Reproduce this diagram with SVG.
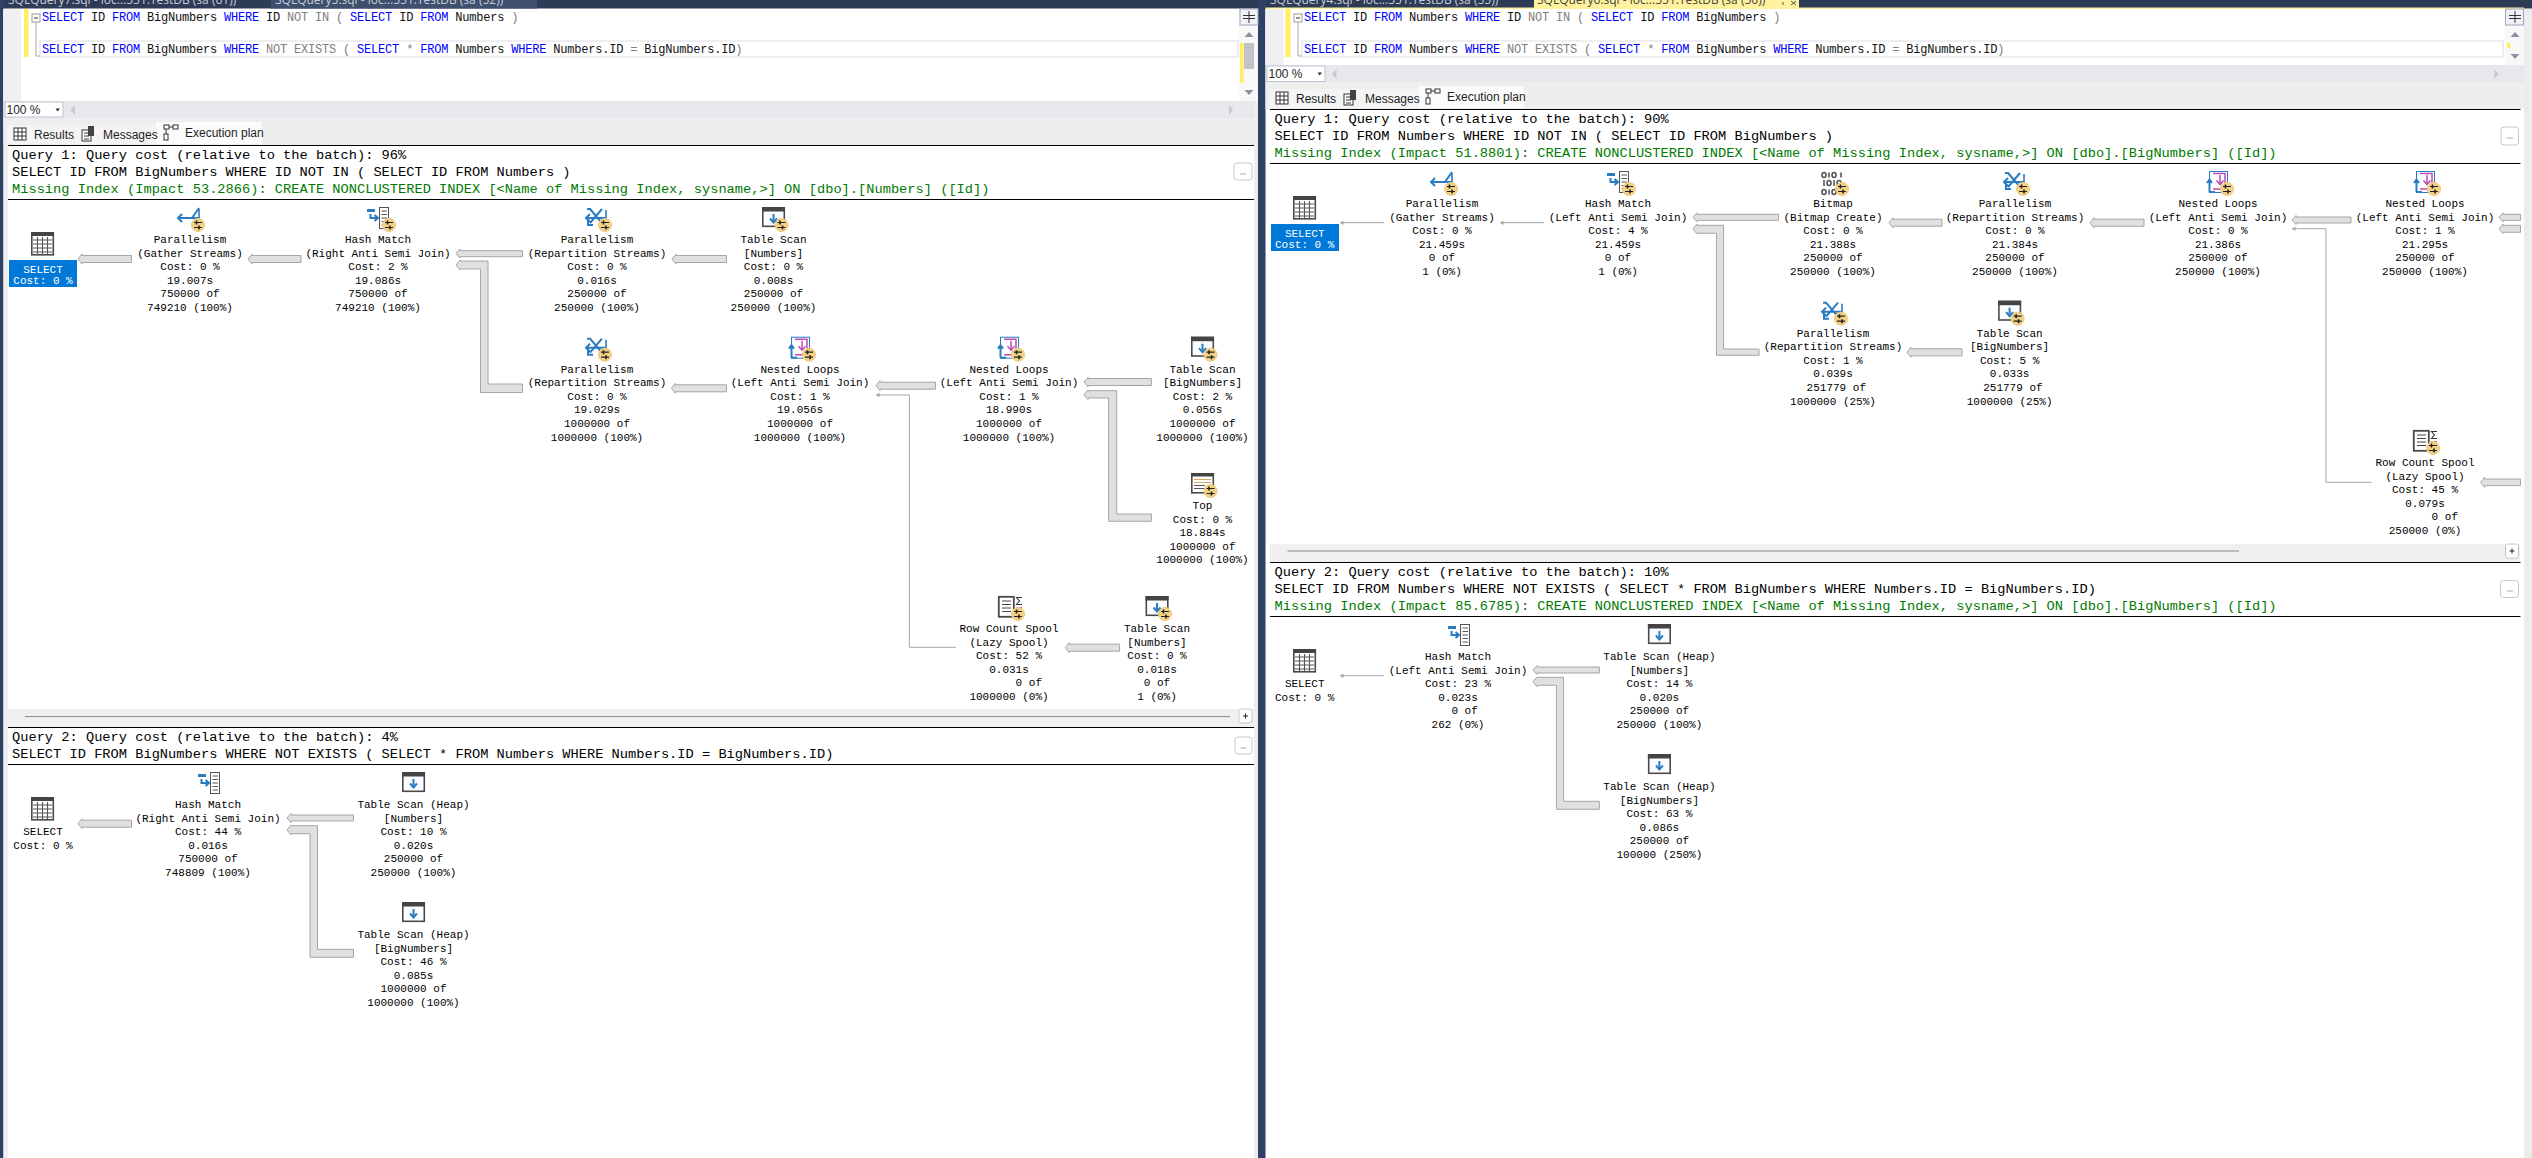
<svg xmlns="http://www.w3.org/2000/svg" xmlns:xlink="http://www.w3.org/1999/xlink" width="2532" height="1158" viewBox="0 0 2532 1158">
<style>
text{white-space:pre}
.n{font:11px "Liberation Mono",monospace;text-anchor:middle;fill:#000}
.w{fill:#fff}
.h{font:13.7px "Liberation Mono",monospace;fill:#000}
.g{fill:#007a00}
.e{font:12px "Liberation Mono",monospace;letter-spacing:-.2px;fill:#111}
.k{fill:#0000ff}
.o{fill:#808080}
.u{font:12px "Liberation Sans",Arial,sans-serif;fill:#1e1e1e}
.t{font:12px "Open Sans",Arial,sans-serif;fill:#c8ccd6}
.fat{fill:#e0e0e0;stroke:#a6a6a6;stroke-width:1}
.thin{fill:none;stroke:#a6a6a6;stroke-width:1;marker-start:url(#ah)}
.rule{stroke:#000;stroke-width:1.2}
.btn{fill:#fff;stroke:#c8c8c8;stroke-width:1}
.b{stroke:#2a7cc2;stroke-width:2;fill:none}
.m{stroke:#c04ab8;stroke-width:1.5;fill:none}
.d{stroke:#454545;stroke-width:1;fill:none}
</style>
<defs>
<marker id="ah" markerWidth="5" markerHeight="6" refX="0.5" refY="3" orient="auto" markerUnits="userSpaceOnUse"><path d="M0.5,3 L4,0.8 V5.2 Z" fill="#a6a6a6"/></marker>
<g id="badge"><circle cx="20" cy="18" r="6.5" fill="#f3d288" stroke="#ecc878"/><path d="M16,15.5H24M16,20.5H24" stroke="#222" stroke-width="1.2"/><path d="M18.5,13.5V17.5M21,18.5V22.5" stroke="#222" stroke-width="1.6"/></g>
<g id="select"><rect x="0.8" y="0.8" width="21.5" height="22" fill="#fff" stroke="#4a4a4a" stroke-width="1.6"/><rect x="0" y="0" width="23" height="4" fill="#444"/><path d="M2,8H21M2,12H21M2,16H21M2,20H21M6.5,5V22M11.5,5V22M16.5,5V22" stroke="#555" stroke-width="1.1"/></g>
<g id="scan"><rect x="0.8" y="0.8" width="21.5" height="18.5" fill="#fbfcff" stroke="#4a4a4a" stroke-width="1.6"/><rect x="0" y="0" width="23" height="4.5" fill="#444"/><path d="M11.5,7V14" class="b"/><path d="M8,11.5L11.5,15.5L15,11.5" class="b"/></g>
<g id="hash"><rect x="0" y="2" width="8" height="3" fill="#2a7cc2"/><path d="M3.5,7V11H10M7.5,8L11,11L7.5,14" class="b"/><rect x="12.5" y="0.5" width="9" height="21" fill="#fff" stroke="#555"/><path d="M14.5,4H20M14.5,7.5H20M14.5,11H20M14.5,14.5H20M14.5,18H20" stroke="#555"/></g>
<g id="nl"><rect x="2.5" y="0.5" width="18" height="21" fill="#fff" stroke="#2a7cc2"/><path d="M6,2.5H18V18H6" class="m"/><path d="M13,4V12M9.5,9.5L13,13.5L16.5,9.5" class="m" stroke-width="2"/><path d="M2.5,21V9M0,12L2.5,8.5L5,12" class="b"/><path d="M2.5,21H8" class="b"/></g>
<g id="gather"><path d="M1,11H22" class="b"/><path d="M5,7L1,11L5,15" class="b"/><path d="M22,1L15,11" class="b"/><path d="M22,2V16" stroke="#2a7cc2" stroke-width="1.6"/></g>
<g id="rep"><path d="M1,11H21M5,7L1,11L5,15M5,2L17,16M17,2L5,16M6,2H2" class="b"/><path d="M21,3V17" stroke="#2a7cc2" stroke-width="1.6"/><path d="M3,13V18H8" class="b"/></g>
<g id="spool"><rect x="0.8" y="0.8" width="15" height="20" fill="#fff" stroke="#4a4a4a" stroke-width="1.8"/><path d="M4,5H13M4,8.5H13M4,12H13M4,15.5H13" stroke="#444" stroke-width="1.2"/><path d="M24,1.5H18.5L21.5,5L18.5,8.5H24" fill="none" stroke="#333" stroke-width="1.1"/><rect x="18" y="11" width="6" height="2.5" fill="#c860c0"/></g>
<g id="top"><rect x="0.8" y="0.8" width="21.5" height="19" fill="#fff" stroke="#4a4a4a" stroke-width="1.6"/><rect x="0" y="0" width="23" height="3.5" fill="#444"/><path d="M3,6.5H20M3,9.5H20" stroke="#d9a860"/><path d="M3,12.5H14M3,15.5H14" stroke="#555"/></g>
<g id="bitmap" fill="none" stroke="#555" stroke-width="1.6"><ellipse cx="3" cy="3" rx="2" ry="2.5"/><path d="M8,0.5V5.5"/><ellipse cx="13" cy="3" rx="2" ry="2.5"/><path d="M20,0.5V5.5"/><path d="M3,8V14"/><ellipse cx="8" cy="11" rx="2" ry="2.5"/><path d="M13,8V14"/><ellipse cx="18" cy="11" rx="2" ry="2.5"/><ellipse cx="3" cy="20" rx="2" ry="2.5"/><path d="M8,17.5V22.5"/><ellipse cx="13" cy="20" rx="2" ry="2.5"/></g>
<g id="tabs-ic"><rect x="7" y="3" width="12" height="12" fill="#fff" stroke="#333"/><path d="M7,7H19M7,11H19M11,3V15M15,3V15" stroke="#333"/><rect x="75" y="5" width="9" height="11" fill="#fff" stroke="#333"/><rect x="81" y="1" width="6" height="10" fill="#444"/><path d="M77,8H82M77,11H82M77,14H82" stroke="#333"/></g>
<g id="plan-ic" fill="#fff" stroke="#333"><rect x="0" y="0" width="5" height="4"/><rect x="9" y="0" width="5" height="4"/><rect x="0" y="9" width="4" height="6"/><path d="M5,2H9M2,4V9"/></g>
<g id="tabs">
<rect x="0" y="0" width="67" height="19" fill="#f4f4f4"/><rect x="68" y="0" width="80" height="19" fill="#f4f4f4"/><rect x="149" y="-3" width="106" height="22" fill="#fbfbfb"/>
</g>
</defs>

<rect width="2532" height="1158" fill="#fff"/>

<g id="chrome">
<rect x="0" y="0" width="2532" height="8.5" fill="#2d3b57"/>
<rect x="271" y="0" width="266" height="8.5" fill="#3f4f6e"/>
<rect x="1534" y="0" width="265" height="8" fill="#fff29d"/>
<rect x="1265" y="7.5" width="1259" height="1.5" fill="#fff29d"/>
<rect x="0" y="0" width="3.5" height="1158" fill="#2f4266"/>
<rect x="3.5" y="9" width="4.5" height="1149" fill="#f0f0f0"/>
<rect x="1254" y="9" width="5" height="1149" fill="#eeeeee"/>
<rect x="1258" y="0" width="7.5" height="1158" fill="#2f4266"/>
<rect x="2524" y="9" width="8" height="1149" fill="#ececec"/>
<text class="t" x="8" y="3.5">SQLQuery7.sql - loc...551.TestDB (sa (61))</text>
<text class="t" x="275" y="3.5">SQLQuery5.sql - loc...551.TestDB (sa (52))</text>
<text class="t" x="1270" y="3.5">SQLQuery4.sql - loc...551.TestDB (sa (55))</text>
<text class="t" x="1537" y="3.5" style="fill:#444">SQLQuery6.sql - loc...551.TestDB (sa (56))</text>
<path d="M1783,2V5M1791,1L1796,5M1796,1L1791,5" stroke="#555" fill="none"/>
</g>

<g id="left-editor">
<rect x="3.5" y="9" width="1235" height="92" fill="#fff"/>
<rect x="3.5" y="9" width="17.5" height="92" fill="#f0f0f0"/>
<rect x="24" y="9" width="4.5" height="48" fill="#ffee62"/>
<rect x="40" y="41" width="1198" height="16" fill="#fff" stroke="#eeeef2" stroke-width="2"/>
<rect x="32" y="14" width="8" height="8" fill="#fff" stroke="#999"/><path d="M34,18H38" stroke="#333"/>
<path d="M36,22V56H40" stroke="#aaa" fill="none"/>
<text class="e" x="42" y="21"><tspan class="k">SELECT</tspan> ID <tspan class="k">FROM</tspan> BigNumbers <tspan class="k">WHERE</tspan> ID <tspan class="o">NOT IN ( </tspan><tspan class="k">SELECT</tspan> ID <tspan class="k">FROM</tspan> Numbers <tspan class="o">)</tspan></text>
<text class="e" x="42" y="53"><tspan class="k">SELECT</tspan> ID <tspan class="k">FROM</tspan> BigNumbers <tspan class="k">WHERE</tspan> <tspan class="o">NOT EXISTS ( </tspan><tspan class="k">SELECT</tspan> <tspan class="o">*</tspan> <tspan class="k">FROM</tspan> Numbers <tspan class="k">WHERE</tspan> Numbers.ID <tspan class="o">=</tspan> BigNumbers.ID<tspan class="o">)</tspan></text>
<rect x="1239" y="9" width="19" height="92" fill="#f8f8f8"/>
<rect x="1240" y="9" width="18" height="16" fill="#f0f2f8" stroke="#9aa6bc"/>
<path d="M1243,15.500H1255M1243,18.500H1255M1249,11V23" stroke="#333"/>
<path d="M1249,32L1253.500,37H1244.500Z" fill="#8a92a6"/>
<rect x="1244" y="43" width="10" height="26" fill="#c2c3c9"/>
<rect x="1240" y="43" width="3.500" height="40" fill="#ffee62"/>
<path d="M1249,95L1253.500,90H1244.500Z" fill="#8a92a6"/>
<rect x="3.500" y="101" width="1250.500" height="17" fill="#e7e8ec"/>
<rect x="5" y="102" width="58" height="15" fill="#fff" stroke="#bcc3d2"/>
<text class="u" x="6.500" y="114">100 %</text>
<path d="M55.500,108.500H60L57.700,111.500Z" fill="#333"/>
<path d="M70.500,110L75,105V115Z" fill="#c8c9cf"/>
<path d="M1233,110L1229,105V115Z" fill="#c8c9cf"/>
<rect x="3.500" y="118" width="1250.500" height="27" fill="#eeeeee"/>
<use href="#tabs" x="7" y="125"/>
<use href="#tabs-ic" x="7" y="125"/>
<use href="#plan-ic" x="164" y="125"/>
<text class="u" x="34" y="139">Results</text>
<text class="u" x="103" y="139">Messages</text>
<text class="u" x="185" y="137">Execution plan</text>
</g>

<g id="right-editor">
<rect x="1265.500" y="9" width="1239.500" height="56" fill="#fff"/>
<rect x="1265.500" y="9" width="18" height="56" fill="#f0f0f0"/>
<rect x="1285.500" y="9" width="5" height="48" fill="#ffee62"/>
<rect x="1302" y="41" width="1201" height="16" fill="#fff" stroke="#eeeef2" stroke-width="2"/>
<rect x="1294" y="14" width="8" height="8" fill="#fff" stroke="#999"/><path d="M1296,18H1300" stroke="#333"/>
<path d="M1298,22V56H1302" stroke="#aaa" fill="none"/>
<text class="e" x="1304" y="21"><tspan class="k">SELECT</tspan> ID <tspan class="k">FROM</tspan> Numbers <tspan class="k">WHERE</tspan> ID <tspan class="o">NOT IN ( </tspan><tspan class="k">SELECT</tspan> ID <tspan class="k">FROM</tspan> BigNumbers <tspan class="o">)</tspan></text>
<text class="e" x="1304" y="53"><tspan class="k">SELECT</tspan> ID <tspan class="k">FROM</tspan> Numbers <tspan class="k">WHERE</tspan> <tspan class="o">NOT EXISTS ( </tspan><tspan class="k">SELECT</tspan> <tspan class="o">*</tspan> <tspan class="k">FROM</tspan> BigNumbers <tspan class="k">WHERE</tspan> Numbers.ID <tspan class="o">=</tspan> BigNumbers.ID<tspan class="o">)</tspan></text>
<rect x="2505" y="9" width="19" height="56" fill="#f8f8f8"/>
<rect x="2505.500" y="9" width="18" height="16" fill="#f0f2f8" stroke="#9aa6bc"/>
<path d="M2509,15.500H2521M2509,18.500H2521M2515,11V23" stroke="#333"/>
<path d="M2515,32L2519.500,37H2510.500Z" fill="#8a92a6"/>
<rect x="2507" y="43" width="3.500" height="5" fill="#ffee62"/>
<path d="M2515,59L2519.500,54H2510.500Z" fill="#8a92a6"/>
<rect x="1265.500" y="65" width="1258.500" height="17" fill="#e7e8ec"/>
<rect x="1267" y="66" width="58" height="15.500" fill="#fff" stroke="#bcc3d2"/>
<text class="u" x="1268.500" y="78">100 %</text>
<path d="M1317.500,72.500H1322L1319.700,75.500Z" fill="#333"/>
<path d="M1332,74L1336.500,69V79Z" fill="#c8c9cf"/>
<path d="M2498.500,74L2494.500,69V79Z" fill="#c8c9cf"/>
<rect x="1265.500" y="82" width="1258.500" height="27" fill="#eeeeee"/>
<use href="#tabs" x="1269" y="89"/>
<use href="#tabs-ic" x="1269" y="89"/>
<use href="#plan-ic" x="1426" y="89"/>
<text class="u" x="1296" y="103">Results</text>
<text class="u" x="1365" y="103">Messages</text>
<text class="u" x="1447" y="101">Execution plan</text>
</g>

<g id="plan-frames">
<rect x="8" y="709" width="1246" height="18" fill="#f0f0f0"/>
<path d="M25,716.600H1230" stroke="#888" stroke-width="1"/>
<rect x="1239" y="709" width="13" height="14" rx="2" class="btn"/><path d="M1243,716H1248M1245.500,713.500V718.500" stroke="#222"/>
<rect x="1270" y="544" width="1250" height="18" fill="#f0f0f0"/>
<path d="M1287.500,551H2239" stroke="#888" stroke-width="1"/>
<rect x="2505.500" y="544" width="13" height="14" rx="2" class="btn"/><path d="M2509.500,551H2514.500M2512,548.500V553.500" stroke="#222"/>
<path class="rule" d="M8,145.500H1254M8,199.500H1254M8,727.500H1254M8,764.500H1254"/>
<path class="rule" d="M1270,109.500H2520.500M1270,163.500H2520.500M1270,562.500H2520.500M1270,616.500H2520.500"/>
<rect x="1234" y="163" width="18" height="17" rx="3" class="btn"/><path d="M1240,174H1246" stroke="#aaa"/>
<rect x="1235" y="737" width="17" height="17" rx="3" class="btn"/><path d="M1240.500,748H1246.500" stroke="#aaa"/>
<rect x="2501" y="127" width="17.500" height="18" rx="3" class="btn"/><path d="M2507,138H2513" stroke="#aaa"/>
<rect x="2500.500" y="580.500" width="18" height="17" rx="3" class="btn"/><path d="M2507,591H2513" stroke="#aaa"/>
<text class="h" x="12" y="158.700">Query 1: Query cost (relative to the batch): 96%</text>
<text class="h" x="12" y="175.700">SELECT ID FROM BigNumbers WHERE ID NOT IN ( SELECT ID FROM Numbers )</text>
<text class="h g" x="12" y="192.700">Missing Index (Impact 53.2866): CREATE NONCLUSTERED INDEX [&lt;Name of Missing Index, sysname,&gt;] ON [dbo].[Numbers] ([Id])</text>
<text class="h" x="12" y="741">Query 2: Query cost (relative to the batch): 4%</text>
<text class="h" x="12" y="758">SELECT ID FROM BigNumbers WHERE NOT EXISTS ( SELECT * FROM Numbers WHERE Numbers.ID = BigNumbers.ID)</text>
<text class="h" x="1274.500" y="122.700">Query 1: Query cost (relative to the batch): 90%</text>
<text class="h" x="1274.500" y="139.700">SELECT ID FROM Numbers WHERE ID NOT IN ( SELECT ID FROM BigNumbers )</text>
<text class="h g" x="1274.500" y="156.700">Missing Index (Impact 51.8801): CREATE NONCLUSTERED INDEX [&lt;Name of Missing Index, sysname,&gt;] ON [dbo].[BigNumbers] ([Id])</text>
<text class="h" x="1274.500" y="575.700">Query 2: Query cost (relative to the batch): 10%</text>
<text class="h" x="1274.500" y="592.700">SELECT ID FROM Numbers WHERE NOT EXISTS ( SELECT * FROM BigNumbers WHERE Numbers.ID = BigNumbers.ID)</text>
<text class="h g" x="1274.500" y="609.700">Missing Index (Impact 85.6785): CREATE NONCLUSTERED INDEX [&lt;Name of Missing Index, sysname,&gt;] ON [dbo].[BigNumbers] ([Id])</text>
</g>

<g id="connectors">
<polygon class="fat" points="78,259 82,254 82,255.500 131.500,255.500 131.500,262.500 82,262.500 82,264"/>
<polygon class="fat" points="248,259 252,254 252,255.500 301,255.500 301,262.500 252,262.500 252,264"/>
<polygon class="fat" points="456,253.500 460,249 460,250.700 522.500,250.700 522.500,256.700 460,256.700 460,258"/>
<polygon class="fat" points="456,265 460,260 460,261 488,261 488,384 522.500,384 522.500,392.500 480.500,392.500 480.500,269 460,269 460,270"/>
<polygon class="fat" points="672,259 676,254 676,255.500 726.500,255.500 726.500,262.500 676,262.500 676,264"/>
<polygon class="fat" points="671.400,388.300 675.400,383.300 675.400,384.800 726.500,384.800 726.500,391.800 675.400,391.800 675.400,393.300"/>
<polygon class="fat" points="876,385.700 880,380.700 880,382.200 935.500,382.200 935.500,389.200 880,389.200 880,390.700"/>
<path class="thin" d="M876,395H909.400V647.300H956"/>
<polygon class="fat" points="1084,382 1088,377 1088,378.500 1151.400,378.500 1151.400,385.500 1088,385.500 1088,387"/>
<polygon class="fat" points="1084,394.700 1088,390 1088,390.700 1116.700,390.700 1116.700,514 1151.400,514 1151.400,521.300 1108.600,521.300 1108.600,398 1088,398 1088,399.500"/>
<polygon class="fat" points="1065.300,647.700 1069.300,642.700 1069.300,644.200 1119.600,644.200 1119.600,651.200 1069.300,651.200 1069.300,652.700"/>
<polygon class="fat" points="78,823.700 82,818.700 82,820.200 131.500,820.200 131.500,827.200 82,827.200 82,828.700"/>
<polygon class="fat" points="287,818 291,813.500 291,815 353.500,815 353.500,821 291,821 291,822.500"/>
<polygon class="fat" points="287,830 291,825 291,825.700 317.500,825.700 317.500,949.300 353.500,949.300 353.500,957.300 310,957.300 310,833.700 291,833.700 291,835"/>
<path class="thin" d="M1340,222.700H1384"/>
<path class="thin" d="M1500,222.700H1544"/>
<polygon class="fat" points="1693,217.300 1697,212.800 1697,214.300 1778.600,214.300 1778.600,220.300 1697,220.300 1697,221.800"/>
<polygon class="fat" points="1693,228.700 1697,224 1697,225.300 1723.500,225.300 1723.500,349 1759,349 1759,355.300 1716.500,355.300 1716.500,233.300 1697,233.300 1697,234"/>
<polygon class="fat" points="1889,222.700 1893,217.700 1893,219.200 1942,219.200 1942,226.200 1893,226.200 1893,227.700"/>
<polygon class="fat" points="2090,222.700 2094,217.700 2094,219.200 2144,219.200 2144,226.200 2094,226.200 2094,227.700"/>
<polygon class="fat" points="2292,220 2296,215.500 2296,217 2351,217 2351,223 2296,223 2296,224.500"/>
<path class="thin" d="M2292,228.700H2326V482.300H2371.600"/>
<polygon class="fat" points="2499,217.300 2503,212.800 2503,214.300 2520.500,214.300 2520.500,220.300 2503,220.300 2503,221.800"/>
<polygon class="fat" points="2499,228.700 2503,224 2503,225.300 2520.500,225.300 2520.500,232.300 2503,232.300 2503,233.700"/>
<polygon class="fat" points="2480.600,482.300 2484.600,477.300 2484.600,479 2520.500,479 2520.500,485.600 2484.600,485.600 2484.600,487.300"/>
<polygon class="fat" points="1907,352.300 1911,347.300 1911,348.800 1962,348.800 1962,355.800 1911,355.800 1911,357.300"/>
<path class="thin" d="M1340,675.700H1384"/>
<polygon class="fat" points="1533,670 1537,665.500 1537,667 1599.400,667 1599.400,673 1537,673 1537,674.500"/>
<polygon class="fat" points="1533,681.700 1537,677 1537,677.300 1563.500,677.300 1563.500,801.300 1599.400,801.300 1599.400,809.300 1556.500,809.300 1556.500,685.300 1537,685.300 1537,686.700"/>
</g>

<g id="l1-select"><use href="#select" x="31" y="232"/><rect x="9" y="260" width="68" height="27" fill="#0078d7"/><text class="n w" x="43" y="273">SELECT</text><text class="n w" x="43" y="284">Cost: 0 %</text></g>

<g id="l1-gather" transform="translate(190,243)"><use href="#gather" x="-13" y="-36"/><use href="#badge" x="-12" y="-36"/><text class="n"><tspan x="0">Parallelism</tspan><tspan x="0" dy="13.600">(Gather Streams)</tspan><tspan x="0" dy="13.600">Cost: 0 %</tspan><tspan x="0" dy="13.600">19.007s</tspan><tspan x="0" dy="13.600">750000 of</tspan><tspan x="0" dy="13.600">749210 (100%)</tspan></text></g>
<g id="l1-hash" transform="translate(378,243)"><use href="#hash" x="-11" y="-36"/><use href="#badge" x="-9" y="-36"/><text class="n"><tspan x="0">Hash Match</tspan><tspan x="0" dy="13.600">(Right Anti Semi Join)</tspan><tspan x="0" dy="13.600">Cost: 2 %</tspan><tspan x="0" dy="13.600">19.086s</tspan><tspan x="0" dy="13.600">750000 of</tspan><tspan x="0" dy="13.600">749210 (100%)</tspan></text></g>
<g id="l1-rep1" transform="translate(597,243)"><use href="#rep" x="-12" y="-36"/><use href="#badge" x="-12" y="-36"/><text class="n"><tspan x="0">Parallelism</tspan><tspan x="0" dy="13.600">(Repartition Streams)</tspan><tspan x="0" dy="13.600">Cost: 0 %</tspan><tspan x="0" dy="13.600">0.016s</tspan><tspan x="0" dy="13.600">250000 of</tspan><tspan x="0" dy="13.600">250000 (100%)</tspan></text></g>
<g id="l1-scan1" transform="translate(773.500,243)"><use href="#scan" x="-11.500" y="-36"/><use href="#badge" x="-12" y="-36"/><text class="n"><tspan x="0">Table Scan</tspan><tspan x="0" dy="13.600">[Numbers]</tspan><tspan x="0" dy="13.600">Cost: 0 %</tspan><tspan x="0" dy="13.600">0.008s</tspan><tspan x="0" dy="13.600">250000 of</tspan><tspan x="0" dy="13.600">250000 (100%)</tspan></text></g>
<g id="l1-rep2" transform="translate(597,372.700)"><use href="#rep" x="-12" y="-36"/><use href="#badge" x="-12" y="-36"/><text class="n"><tspan x="0">Parallelism</tspan><tspan x="0" dy="13.600">(Repartition Streams)</tspan><tspan x="0" dy="13.600">Cost: 0 %</tspan><tspan x="0" dy="13.600">19.029s</tspan><tspan x="0" dy="13.600">1000000 of</tspan><tspan x="0" dy="13.600">1000000 (100%)</tspan></text></g>
<g id="l1-nl1" transform="translate(800,372.700)"><use href="#nl" x="-11" y="-36"/><use href="#badge" x="-11" y="-36"/><text class="n"><tspan x="0">Nested Loops</tspan><tspan x="0" dy="13.600">(Left Anti Semi Join)</tspan><tspan x="0" dy="13.600">Cost: 1 %</tspan><tspan x="0" dy="13.600">19.056s</tspan><tspan x="0" dy="13.600">1000000 of</tspan><tspan x="0" dy="13.600">1000000 (100%)</tspan></text></g>
<g id="l1-nl2" transform="translate(1009,372.700)"><use href="#nl" x="-11" y="-36"/><use href="#badge" x="-11" y="-36"/><text class="n"><tspan x="0">Nested Loops</tspan><tspan x="0" dy="13.600">(Left Anti Semi Join)</tspan><tspan x="0" dy="13.600">Cost: 1 %</tspan><tspan x="0" dy="13.600">18.990s</tspan><tspan x="0" dy="13.600">1000000 of</tspan><tspan x="0" dy="13.600">1000000 (100%)</tspan></text></g>
<g id="l1-scan2" transform="translate(1202.500,372.700)"><use href="#scan" x="-11.500" y="-36"/><use href="#badge" x="-12" y="-36"/><text class="n"><tspan x="0">Table Scan</tspan><tspan x="0" dy="13.600">[BigNumbers]</tspan><tspan x="0" dy="13.600">Cost: 2 %</tspan><tspan x="0" dy="13.600">0.056s</tspan><tspan x="0" dy="13.600">1000000 of</tspan><tspan x="0" dy="13.600">1000000 (100%)</tspan></text></g>
<g id="l1-top" transform="translate(1202.500,509)"><use href="#top" x="-11.500" y="-36"/><use href="#badge" x="-12" y="-36"/><text class="n"><tspan x="0">Top</tspan><tspan x="0" dy="13.600">Cost: 0 %</tspan><tspan x="0" dy="13.600">18.884s</tspan><tspan x="0" dy="13.600">1000000 of</tspan><tspan x="0" dy="13.600">1000000 (100%)</tspan></text></g>
<g id="l1-spool" transform="translate(1009,632)"><use href="#spool" x="-11" y="-36"/><use href="#badge" x="-11" y="-36"/><text class="n"><tspan x="0">Row Count Spool</tspan><tspan x="0" dy="13.600">(Lazy Spool)</tspan><tspan x="0" dy="13.600">Cost: 52 %</tspan><tspan x="0" dy="13.600">0.031s</tspan><tspan x="0" dy="13.600">      0 of</tspan><tspan x="0" dy="13.600">1000000 (0%)</tspan></text></g>
<g id="l1-scan3" transform="translate(1157,632)"><use href="#scan" x="-11.500" y="-36"/><use href="#badge" x="-12" y="-36"/><text class="n"><tspan x="0">Table Scan</tspan><tspan x="0" dy="13.600">[Numbers]</tspan><tspan x="0" dy="13.600">Cost: 0 %</tspan><tspan x="0" dy="13.600">0.018s</tspan><tspan x="0" dy="13.600">0 of</tspan><tspan x="0" dy="13.600">1 (0%)</tspan></text></g>

<g id="l2-select"><use href="#select" x="31" y="797"/><text class="n" x="43" y="835">SELECT</text><text class="n" x="43" y="849">Cost: 0 %</text></g>
<g id="l2-hash" transform="translate(208,808)"><use href="#hash" x="-10" y="-36"/><text class="n"><tspan x="0">Hash Match</tspan><tspan x="0" dy="13.600">(Right Anti Semi Join)</tspan><tspan x="0" dy="13.600">Cost: 44 %</tspan><tspan x="0" dy="13.600">0.016s</tspan><tspan x="0" dy="13.600">750000 of</tspan><tspan x="0" dy="13.600">748809 (100%)</tspan></text></g>
<g id="l2-scan1" transform="translate(413.500,808)"><use href="#scan" x="-11.500" y="-36"/><text class="n"><tspan x="0">Table Scan (Heap)</tspan><tspan x="0" dy="13.600">[Numbers]</tspan><tspan x="0" dy="13.600">Cost: 10 %</tspan><tspan x="0" dy="13.600">0.020s</tspan><tspan x="0" dy="13.600">250000 of</tspan><tspan x="0" dy="13.600">250000 (100%)</tspan></text></g>
<g id="l2-scan2" transform="translate(413.500,938)"><use href="#scan" x="-11.500" y="-36"/><text class="n"><tspan x="0">Table Scan (Heap)</tspan><tspan x="0" dy="13.600">[BigNumbers]</tspan><tspan x="0" dy="13.600">Cost: 46 %</tspan><tspan x="0" dy="13.600">0.085s</tspan><tspan x="0" dy="13.600">1000000 of</tspan><tspan x="0" dy="13.600">1000000 (100%)</tspan></text></g>

<g id="r1-select"><use href="#select" x="1293" y="196"/><rect x="1271" y="224" width="68" height="27" fill="#0078d7"/><text class="n w" x="1304.700" y="237">SELECT</text><text class="n w" x="1304.700" y="248">Cost: 0 %</text></g>
<g id="r1-gather" transform="translate(1442,207)"><use href="#gather" x="-12" y="-36"/><use href="#badge" x="-11" y="-36"/><text class="n"><tspan x="0">Parallelism</tspan><tspan x="0" dy="13.600">(Gather Streams)</tspan><tspan x="0" dy="13.600">Cost: 0 %</tspan><tspan x="0" dy="13.600">21.459s</tspan><tspan x="0" dy="13.600">0 of</tspan><tspan x="0" dy="13.600">1 (0%)</tspan></text></g>
<g id="r1-hash" transform="translate(1618,207)"><use href="#hash" x="-11" y="-36"/><use href="#badge" x="-9" y="-36"/><text class="n"><tspan x="0">Hash Match</tspan><tspan x="0" dy="13.600">(Left Anti Semi Join)</tspan><tspan x="0" dy="13.600">Cost: 4 %</tspan><tspan x="0" dy="13.600">21.459s</tspan><tspan x="0" dy="13.600">0 of</tspan><tspan x="0" dy="13.600">1 (0%)</tspan></text></g>
<g id="r1-bitmap" transform="translate(1833,207)"><use href="#bitmap" x="-12" y="-35"/><use href="#badge" x="-11" y="-36"/><text class="n"><tspan x="0">Bitmap</tspan><tspan x="0" dy="13.600">(Bitmap Create)</tspan><tspan x="0" dy="13.600">Cost: 0 %</tspan><tspan x="0" dy="13.600">21.388s</tspan><tspan x="0" dy="13.600">250000 of</tspan><tspan x="0" dy="13.600">250000 (100%)</tspan></text></g>
<g id="r1-rep1" transform="translate(2015,207)"><use href="#rep" x="-12" y="-36"/><use href="#badge" x="-12" y="-36"/><text class="n"><tspan x="0">Parallelism</tspan><tspan x="0" dy="13.600">(Repartition Streams)</tspan><tspan x="0" dy="13.600">Cost: 0 %</tspan><tspan x="0" dy="13.600">21.384s</tspan><tspan x="0" dy="13.600">250000 of</tspan><tspan x="0" dy="13.600">250000 (100%)</tspan></text></g>
<g id="r1-nl1" transform="translate(2218,207)"><use href="#nl" x="-11" y="-36"/><use href="#badge" x="-11" y="-36"/><text class="n"><tspan x="0">Nested Loops</tspan><tspan x="0" dy="13.600">(Left Anti Semi Join)</tspan><tspan x="0" dy="13.600">Cost: 0 %</tspan><tspan x="0" dy="13.600">21.386s</tspan><tspan x="0" dy="13.600">250000 of</tspan><tspan x="0" dy="13.600">250000 (100%)</tspan></text></g>
<g id="r1-nl2" transform="translate(2425,207)"><use href="#nl" x="-11" y="-36"/><use href="#badge" x="-11" y="-36"/><text class="n"><tspan x="0">Nested Loops</tspan><tspan x="0" dy="13.600">(Left Anti Semi Join)</tspan><tspan x="0" dy="13.600">Cost: 1 %</tspan><tspan x="0" dy="13.600">21.295s</tspan><tspan x="0" dy="13.600">250000 of</tspan><tspan x="0" dy="13.600">250000 (100%)</tspan></text></g>
<g id="r1-rep2" transform="translate(1833,336.700)"><use href="#rep" x="-12" y="-36"/><use href="#badge" x="-12" y="-36"/><text class="n"><tspan x="0">Parallelism</tspan><tspan x="0" dy="13.600">(Repartition Streams)</tspan><tspan x="0" dy="13.600">Cost: 1 %</tspan><tspan x="0" dy="13.600">0.039s</tspan><tspan x="0" dy="13.600"> 251779 of</tspan><tspan x="0" dy="13.600">1000000 (25%)</tspan></text></g>
<g id="r1-scan" transform="translate(2009.600,336.700)"><use href="#scan" x="-11.500" y="-36"/><use href="#badge" x="-12" y="-36"/><text class="n"><tspan x="0">Table Scan</tspan><tspan x="0" dy="13.600">[BigNumbers]</tspan><tspan x="0" dy="13.600">Cost: 5 %</tspan><tspan x="0" dy="13.600">0.033s</tspan><tspan x="0" dy="13.600"> 251779 of</tspan><tspan x="0" dy="13.600">1000000 (25%)</tspan></text></g>
<g id="r1-spool" transform="translate(2425,466)"><use href="#spool" x="-12" y="-36"/><use href="#badge" x="-12" y="-36"/><text class="n"><tspan x="0">Row Count Spool</tspan><tspan x="0" dy="13.600">(Lazy Spool)</tspan><tspan x="0" dy="13.600">Cost: 45 %</tspan><tspan x="0" dy="13.600">0.079s</tspan><tspan x="0" dy="13.600">      0 of</tspan><tspan x="0" dy="13.600">250000 (0%)</tspan></text></g>

<g id="r2-select"><use href="#select" x="1293" y="649"/><text class="n" x="1304.700" y="687">SELECT</text><text class="n" x="1304.700" y="701">Cost: 0 %</text></g>
<g id="r2-hash" transform="translate(1458,660)"><use href="#hash" x="-10" y="-36"/><text class="n"><tspan x="0">Hash Match</tspan><tspan x="0" dy="13.600">(Left Anti Semi Join)</tspan><tspan x="0" dy="13.600">Cost: 23 %</tspan><tspan x="0" dy="13.600">0.023s</tspan><tspan x="0" dy="13.600">  0 of</tspan><tspan x="0" dy="13.600">262 (0%)</tspan></text></g>
<g id="r2-scan1" transform="translate(1659.400,660)"><use href="#scan" x="-11.500" y="-36"/><text class="n"><tspan x="0">Table Scan (Heap)</tspan><tspan x="0" dy="13.600">[Numbers]</tspan><tspan x="0" dy="13.600">Cost: 14 %</tspan><tspan x="0" dy="13.600">0.020s</tspan><tspan x="0" dy="13.600">250000 of</tspan><tspan x="0" dy="13.600">250000 (100%)</tspan></text></g>
<g id="r2-scan2" transform="translate(1659.400,790)"><use href="#scan" x="-11.500" y="-36"/><text class="n"><tspan x="0">Table Scan (Heap)</tspan><tspan x="0" dy="13.600">[BigNumbers]</tspan><tspan x="0" dy="13.600">Cost: 63 %</tspan><tspan x="0" dy="13.600">0.086s</tspan><tspan x="0" dy="13.600">250000 of</tspan><tspan x="0" dy="13.600">100000 (250%)</tspan></text></g>
</svg>
